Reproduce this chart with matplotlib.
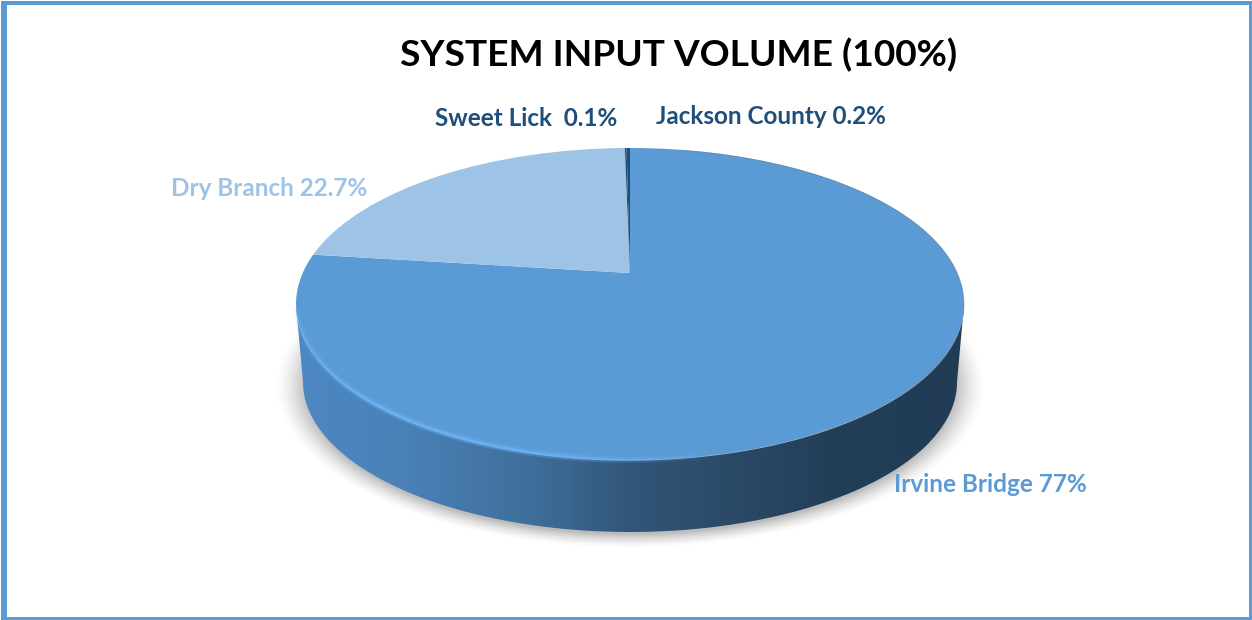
import matplotlib
matplotlib.use('Agg')
import matplotlib.pyplot as plt
from matplotlib.collections import LineCollection
from matplotlib.colors import LinearSegmentedColormap
from matplotlib.patches import Polygon, Rectangle
from matplotlib.transforms import Transform
import numpy as np

plt.rcParams['font.family'] = ['Lato', 'DejaVu Sans']

names = ['Irvine Bridge', 'Dry Branch', 'Sweet Lick ', 'Jackson County']
shares = [77, 22.7, 0.1, 0.2]
slice_colors = ['#5b9bd5', '#9dc3e6', '#1f4e79', '#1f4e79']
label_colors = ['#5b9bd5', '#9dc3e6', '#1f4e79', '#1f4e79']
label_left = [894, 171, 435, 656]
label_mid = [485, 188.5, 119, 116.5]


# unit circle -> tilted disc in pixel coords (perspective, so the apex sits above ellipse centre)
class Tilt(Transform):
    input_dims = 2
    output_dims = 2

    def transform_non_affine(self, xy):
        xy = np.asarray(xy, dtype=float)
        d = 1 + 0.1987 * xy[:, 1]
        return np.column_stack([630 + 327.3 * xy[:, 0] / d, (273 - 95.6 * xy[:, 1]) / d])


fig = plt.figure(figsize=(12.52, 6.2), dpi=100)
ax = fig.add_axes([0, 0, 1, 1])

# frame, thicker on the left
ax.add_patch(Rectangle((1, 1), 1251, 619, fc='#5b9bd5', ec='none', zorder=0))
ax.add_patch(Rectangle((6.5, 4.5), 1242.5, 612.5, fc='white', ec='none', zorder=0.5))

# soft shadow under the disc
yy, xx = np.mgrid[300:616, 250:1010]
r = np.hypot((xx - 630) / 345, (yy - 385) / 158)
shadow = np.zeros(r.shape + (4,))
shadow[..., :3] = 0.35
shadow[..., 3] = 0.4 * np.clip((1.03 - r) / 0.09, 0, 1) ** 1.5
ax.imshow(shadow, extent=(250, 1010, 616, 300), aspect='auto', zorder=1)

# side wall
t = np.linspace(0, np.pi, 200)
top_edge = np.column_stack([630 + 334 * np.cos(t), 304.5 + 156 * np.sin(t)])
bot_edge = np.column_stack([630 + 327 * np.cos(t[::-1]), 382 + 150 * np.sin(t[::-1])])
side = Polygon(np.vstack([top_edge, bot_edge]), closed=True, transform=ax.transData,
               fc='none', ec='none')
ax.add_patch(side)
side_cmap = LinearSegmentedColormap.from_list('side', [
    (0.0, '#4d88c4'), (0.15, '#4a82b8'), (0.35, '#3f6f9c'), (0.5, '#315679'),
    (0.65, '#2b4a68'), (0.8, '#233f58'), (1.0, '#213c54')])
grad = ax.imshow(np.linspace(0, 1, 256)[None, :], cmap=side_cmap, extent=(296, 964, 540, 300),
                 aspect='auto', zorder=2)
grad.set_clip_path(side)

# top face
wedges, _ = ax.pie(shares, colors=slice_colors, startangle=90, counterclock=False,
                   wedgeprops={'linewidth': 0})
tilt = Tilt()
for w in wedges:
    w.set_transform(tilt + ax.transData)
    w.set_zorder(3)

# bevel highlight on the lit rim: wide faint stroke, then a narrow bright one
a = np.linspace(np.pi, np.pi * 0.42, 160)
rim = np.column_stack([630 + 333 * np.cos(a), 304.5 + 155 * np.sin(a)])
segs = np.stack([rim[:-1], rim[1:]], axis=1)
fade = np.sin(np.linspace(0, np.pi, len(segs))) ** 0.7
ax.add_collection(LineCollection(segs, colors=[(0.42, 0.69, 0.96, 0.35 * f) for f in fade],
                                 linewidths=5, zorder=4))
ax.add_collection(LineCollection(segs, colors=[(0.42, 0.70, 0.98, 0.8 * f) for f in fade],
                                 linewidths=2.2, zorder=4))
# thin grey edge around the shaded back
b = np.linspace(-np.pi * 0.45, np.pi * 0.2, 200)
ax.plot(630 + 334 * np.cos(b), 304.5 + 156 * np.sin(b), color='#6d7c8a', lw=0.7, alpha=0.5, zorder=4)

ax.text(679, 55, 'SYSTEM INPUT VOLUME (100%)', ha='center', va='center', fontsize=26.75,
        fontweight='bold', color='black', zorder=5)
for name, share, c, x0, y0 in zip(names, shares, label_colors, label_left, label_mid):
    ax.text(x0, y0, f'{name} {share}%', ha='left', va='center', fontsize=17.5,
            fontweight='bold', color=c, zorder=5)

ax.set_xlim(0, 1252)
ax.set_ylim(620, 0)
ax.set_aspect('auto')
ax.axis('off')
fig.savefig('out.png', dpi=100)
